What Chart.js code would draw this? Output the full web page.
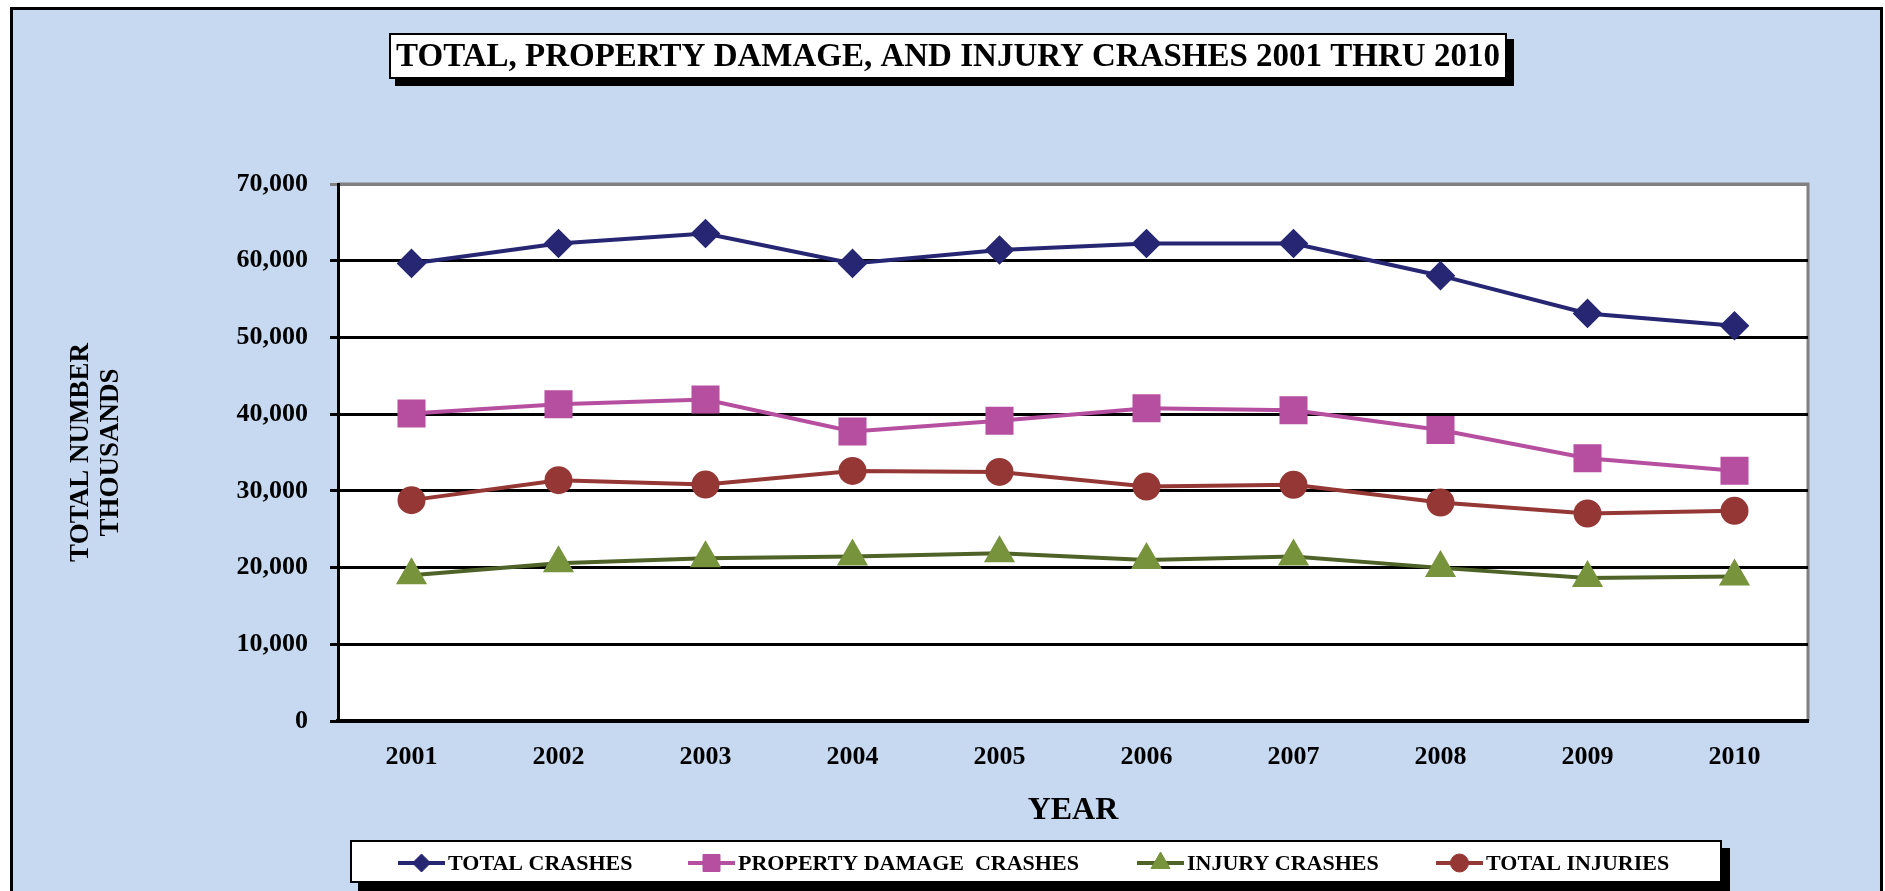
<!DOCTYPE html>
<html>
<head>
<meta charset="utf-8">
<script src="https://cdn.jsdelivr.net/npm/chart.js"></script>
<style>
  html, body { margin: 0; padding: 0; background: #fff; }
  canvas { display: block; }
</style>
</head>
<body>
<canvas id="crashChart" width="1885" height="891"></canvas>
<script>
const years = ["2001", "2002", "2003", "2004", "2005", "2006", "2007", "2008", "2009", "2010"];
const totalCrashes = [59650, 62250, 63550, 59650, 61400, 62250, 62250, 58050, 53130, 51520];
const propertyDamageCrashes = [40090, 41300, 41900, 37750, 39130, 40780, 40520, 37920, 34260, 32610];
const injuryCrashes = [19000, 20560, 21210, 21430, 21860, 21000, 21430, 19960, 18650, 18830];
const totalInjuries = [28790, 31390, 30820, 32600, 32470, 30560, 30780, 28480, 27050, 27400];
const yTicks = [0, 10000, 20000, 30000, 40000, 50000, 60000, 70000];

const serif = "'Liberation Serif', 'Times New Roman', serif";

// frame, title box, plot background
const frame = {
    id: "frame",
    beforeDraw(chart) {
        const ctx = chart.ctx;
        const a = chart.chartArea;
        ctx.save();
        ctx.fillStyle = "#ffffff";
        ctx.fillRect(0, 0, chart.width, chart.height);
        ctx.fillStyle = "#c6d9f0";
        ctx.fillRect(10, 7, 1873, 900);
        ctx.strokeStyle = "#000";
        ctx.lineWidth = 3;
        ctx.beginPath();
        ctx.moveTo(11.5, 900); ctx.lineTo(11.5, 8.5); ctx.lineTo(1881.5, 8.5); ctx.lineTo(1881.5, 900);
        ctx.stroke();

        // plot area
        ctx.fillStyle = "#ffffff";
        ctx.fillRect(a.left, a.top, a.right - a.left, a.bottom - a.top);
        ctx.strokeStyle = "#808080";
        ctx.lineWidth = 3;
        ctx.beginPath();
        ctx.moveTo(a.right, a.bottom); ctx.lineTo(a.right, a.top); ctx.lineTo(a.left, a.top);
        ctx.stroke();

        // title box with shadow
        ctx.fillStyle = "#000";
        ctx.fillRect(395, 39, 1119, 47);
        ctx.fillStyle = "#fff";
        ctx.fillRect(389, 33, 1118, 46);
        ctx.lineWidth = 2;
        ctx.strokeStyle = "#000";
        ctx.strokeRect(390, 34, 1116, 44);
        ctx.fillStyle = "#000";
        ctx.font = "bold 33px " + serif;
        ctx.textAlign = "center";
        ctx.textBaseline = "middle";
        ctx.fillText("TOTAL, PROPERTY DAMAGE, AND INJURY CRASHES 2001 THRU 2010", 948, 57);
        ctx.restore();
    },
    afterDraw(chart) {
        // legend box with line + marker samples
        const ctx = chart.ctx;
        ctx.save();
        ctx.fillStyle = "#000";
        ctx.fillRect(358, 848, 1372, 45);
        ctx.fillStyle = "#fff";
        ctx.fillRect(350, 840, 1372, 43);
        ctx.lineWidth = 2;
        ctx.strokeStyle = "#000";
        ctx.strokeRect(351, 841, 1370, 41);

        const starts = [398, 688, 1137, 1436];
        const legendRadius = [9, 12, 11, 9];
        const y = 863;
        ctx.font = "bold 22px " + serif;
        ctx.textAlign = "left";
        ctx.textBaseline = "middle";
        chart.data.datasets.forEach((ds, i) => {
            const x0 = starts[i];
            ctx.strokeStyle = ds.borderColor;
            ctx.lineWidth = 4;
            ctx.beginPath();
            ctx.moveTo(x0, y); ctx.lineTo(x0 + 47, y);
            ctx.stroke();
            ctx.fillStyle = ds.pointBackgroundColor;
            ctx.strokeStyle = ds.pointBorderColor;
            ctx.lineWidth = 1;
            Chart.helpers.drawPoint(ctx, {
                pointStyle: ds.pointStyle,
                radius: legendRadius[i],
                rotation: 0,
                borderWidth: 1
            }, x0 + 23.5, y);
            ctx.fillStyle = "#000";
            ctx.fillText(ds.label, x0 + 50, y + 1);
        });
        ctx.restore();
    }
};

new Chart(document.getElementById("crashChart").getContext("2d"), {
    type: "line",
    data: {
        labels: years,
        datasets: [
            {
                label: "TOTAL CRASHES",
                data: totalCrashes,
                borderColor: "#262673",
                pointBackgroundColor: "#262673",
                pointBorderColor: "#262673",
                pointStyle: "rectRot",
                pointRadius: 12,
                borderWidth: 4,
            },
            {
                label: "PROPERTY DAMAGE  CRASHES",
                data: propertyDamageCrashes,
                borderColor: "#b64fa0",
                pointBackgroundColor: "#b64fa0",
                pointBorderColor: "#b64fa0",
                pointStyle: "rect",
                pointRadius: 17,
                borderWidth: 4,
            },
            {
                label: "INJURY CRASHES",
                data: injuryCrashes,
                borderColor: "#4f6228",
                pointBackgroundColor: "#77933c",
                pointBorderColor: "#77933c",
                pointStyle: "triangle",
                pointRadius: 14,
                borderWidth: 4,
            },
            {
                label: "TOTAL INJURIES",
                data: totalInjuries,
                borderColor: "#953735",
                pointBackgroundColor: "#953735",
                pointBorderColor: "#953735",
                pointStyle: "circle",
                pointRadius: 12,
                borderWidth: 4,
            },
        ],
    },
    options: {
        responsive: false,
        animation: false,
        events: [],
        layout: { padding: { left: 0, top: 184, right: 77, bottom: 61 } },
        plugins: {
            legend: { display: false },
            title: { display: false },
            tooltip: { enabled: false },
        },
        scales: {
            x: {
                offset: true,
                grid: { display: false, drawTicks: false },
                border: { display: true, color: "#000", width: 4 },
                ticks: {
                    color: "#000",
                    padding: 21,
                    font: { family: serif, size: 26, weight: "bold" },
                },
                title: {
                    display: true,
                    text: "YEAR",
                    color: "#000",
                    padding: 0,
                    font: { family: serif, size: 32, weight: "bold" },
                },
                afterFit(scale) { scale.height = 109; },
            },
            y: {
                min: 0,
                max: 70000,
                afterBuildTicks(scale) { scale.ticks = yTicks.map((v) => ({ value: v })); },
                grid: {
                    color: (c) => (c.tick && c.tick.value === 70000 ? "#808080" : "#000"),
                    lineWidth: 3,
                    tickLength: 8,
                },
                border: { display: true, color: "#000", width: 3 },
                ticks: {
                    color: "#000",
                    padding: 22,
                    font: { family: serif, size: 26, weight: "bold" },
                    callback: (v) => v.toLocaleString("en-US"),
                },
                title: {
                    display: true,
                    text: ["TOTAL NUMBER", "THOUSANDS"],
                    color: "#000",
                    padding: { top: 66, bottom: 0 },
                    font: { family: serif, size: 27, weight: "bold", lineHeight: 1.11 },
                },
                afterFit(scale) { scale.width = 338; },
            },
        },
    },
    plugins: [frame],
});
</script>
</body>
</html>
